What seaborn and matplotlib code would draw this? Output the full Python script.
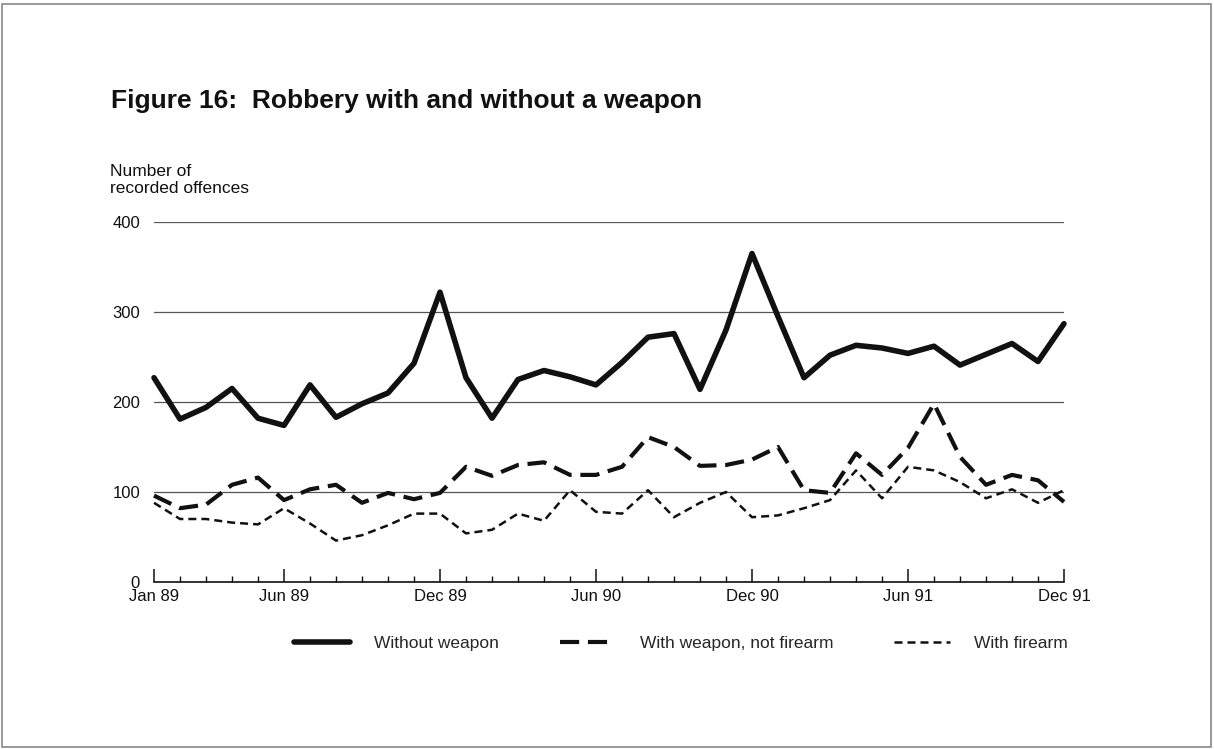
import pandas as pd
import matplotlib
matplotlib.use("Agg")
import matplotlib.pyplot as plt
import seaborn as sns
from matplotlib.lines import Line2D
from matplotlib.patches import Rectangle

# monthly recorded offences, Jan 89 .. Dec 91
month_idx = list(range(36))
without_weapon = [227, 181, 194, 215, 182, 174, 219, 183, 198, 210, 243, 322,
                  227, 182, 225, 235, 228, 219, 244, 272, 276, 214, 280, 365,
                  295, 227, 252, 263, 260, 254, 262, 241, 253, 265, 245, 287]
with_weapon = [96, 82, 86, 108, 116, 91, 103, 108, 88, 99, 92, 99,
               128, 118, 130, 133, 119, 119, 128, 161, 150, 129, 130, 136,
               150, 102, 99, 143, 119, 149, 198, 139, 108, 119, 113, 89]
with_firearm = [88, 70, 70, 66, 64, 82, 65, 46, 52, 63, 76, 76,
                54, 58, 76, 68, 102, 78, 76, 102, 72, 88, 100, 72,
                74, 82, 91, 124, 93, 128, 124, 111, 93, 103, 88, 102]
tick_pos = [0, 5, 11, 17, 23, 29, 35]
tick_labels = ["Jan 89", "Jun 89", "Dec 89", "Jun 90", "Dec 90", "Jun 91", "Dec 91"]
series_names = ["Without weapon", "With weapon, not firearm", "With firearm"]

sns.set_style("white")
plt.rcParams["font.family"] = ["Liberation Sans", "DejaVu Sans"]

df = pd.DataFrame({"month": month_idx,
                   series_names[0]: without_weapon,
                   series_names[1]: with_weapon,
                   series_names[2]: with_firearm})

styles = {
    series_names[0]: dict(lw=4.0, ls="-"),
    series_names[1]: dict(lw=3.0, ls=(0, (4.6, 2.1))),
    series_names[2]: dict(lw=1.8, ls=(0, (3.2, 2.0))),
}

fig = plt.figure(figsize=(12.14, 7.49), dpi=100)
ax = fig.add_axes([154 / 1214, 1 - 582 / 749, 910 / 1214, 360 / 749])

for name in series_names:
    st = styles[name]
    sns.lineplot(data=df, x="month", y=name, ax=ax, color="#111111",
                 linewidth=st["lw"], linestyle=st["ls"], legend=False,
                 clip_on=False, zorder=3)

ax.set_xlim(0, 35)
ax.set_ylim(0, 400)
ax.set_xlabel("")
ax.set_ylabel("")
ax.set_yticks([0, 100, 200, 300, 400])
ax.yaxis.grid(True, color="#555555", lw=0.9)
ax.tick_params(axis="y", length=0, pad=10, labelsize=12, labelcolor="#111111")
ax.set_xticks(tick_pos)
ax.set_xticklabels(tick_labels)
ax.set_xticks(month_idx, minor=True)
ax.tick_params(axis="x", which="both", bottom=True)
ax.tick_params(axis="x", which="major", direction="in", length=9.5, width=1.1,
               pad=5, labelsize=12, labelcolor="#111111", color="#111111")
ax.tick_params(axis="x", which="minor", direction="in", length=4, width=1.0,
               color="#111111")
for s in ["top", "right", "left"]:
    ax.spines[s].set_visible(False)
ax.spines["bottom"].set_color("#111111")
ax.spines["bottom"].set_linewidth(1.2)

fig.text(111 / 1214, 1 - 101 / 749, "Figure 16:  Robbery with and without a weapon",
         fontsize=19, fontweight="bold", va="center", ha="left", color="#111111")
fig.text(110 / 1214, 1 - 164 / 749, "Number of\nrecorded offences",
         fontsize=12.5, va="top", ha="left", color="#111111", linespacing=1.15)

handles = [Line2D([0], [0], color="#111111", lw=styles[n]["lw"], ls=styles[n]["ls"])
           for n in series_names]
fig.legend(handles, series_names, loc="center", bbox_to_anchor=(681 / 1214, 1 - 643 / 749),
           ncol=3, frameon=False, fontsize=12.5, handlelength=3.2, handletextpad=1.4,
           columnspacing=3.5)

fig.patches.append(Rectangle((2 / 1214, 2 / 749), 1209 / 1214, 743 / 749,
                             transform=fig.transFigure, fill=False,
                             edgecolor="#888888", lw=1.2))

fig.savefig("out.png", dpi=100)
